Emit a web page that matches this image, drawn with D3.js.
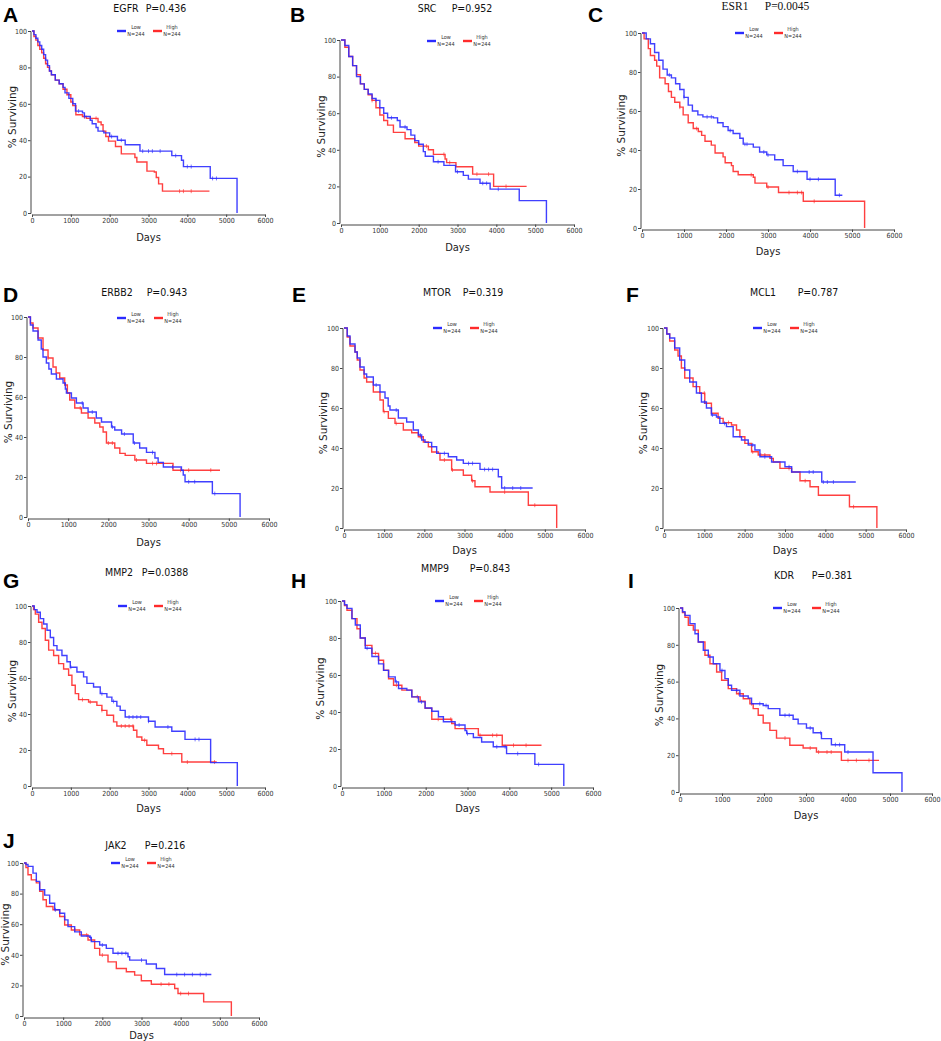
<!DOCTYPE html>
<html><head><meta charset="utf-8">
<script src="https://cdn.jsdelivr.net/npm/d3@7/dist/d3.min.js"></script>
<style>body{margin:0;background:#fff}svg{display:block}</style>
</head><body>
<svg id="c" width="941" height="1041"></svg>
<script>
// ---------- DATA ----------
const panelLetters = ["A","B","C","D","E","F","G","H","I","J"];
const genes = ["EGFR","SRC","ESR1","ERBB2","MTOR","MCL1","MMP2","MMP9","KDR","JAK2"];
const pValues = ["P=0.436","P=0.952","P=0.0045","P=0.943","P=0.319","P=0.787","P=0.0388","P=0.843","P=0.381","P=0.216"];
const groupLabels = ["Low","High"];
const groupN = ["N=244","N=244"];
const xTicks = [0,1000,2000,3000,4000,5000,6000];
const yTicks = [0,20,40,60,80,100];

// Kaplan-Meier steps [day, % surviving] for the Low expression group
const lowCurves = [
 [[0,100],[50,98],[100,96],[150,94],[200,92],[250,90],[300,87],[350,84],[400,81],[450,78],[500,76],[600,73],[700,71],[800,69],[850,66],[950,63],[1050,60],[1120,56],[1300,55],[1350,53],[1500,51],[1550,49],[1650,47],[1700,45],[1850,44],[2000,42],[2200,40],[2400,37.5],[2780,34],[3600,31.5],[3850,29],[3900,25.5],[4590,19],[5280,0]],
 [[0,100],[100,97],[200,91],[300,86],[400,80],[500,76],[600,73],[700,70.5],[800,68],[900,67],[1000,63],[1100,60],[1200,57.5],[1450,56],[1520,52.5],[1700,51],[1800,48],[1900,45],[2000,43],[2120,39],[2170,36.5],[2380,33.5],[2650,31.5],[2950,28],[3150,26],[3280,24],[3580,21.7],[3840,18.5],[4590,12.2],[5290,0]],
 [[0,100],[100,97],[200,94.5],[300,90],[400,86],[500,81.5],[600,78.5],[700,77],[800,74],[900,71],[1000,67],[1100,63],[1200,60],[1330,58],[1450,57],[1700,56.5],[1800,54],[1930,52],[2050,50],[2170,48.5],[2330,46],[2410,43],[2650,41.5],[2800,39],[2970,37.5],[3160,35],[3360,32],[3600,29],[3930,25],[4600,16.8],[4770,16.8]],
 [[0,100],[60,96],[125,93],[250,88.5],[330,84],[374,80],[457,77],[520,74],[582,71.5],[707,69],[873,67],[930,64],[956,62],[1081,59.5],[1205,57],[1372,54.5],[1496,52.5],[1700,49.5],[1830,47.5],[2080,45],[2160,43.5],[2330,41.5],[2620,37],[2780,34.5],[2950,32.3],[3160,29.5],[3240,27.3],[3370,25],[3820,23.4],[3865,21],[3910,17.6],[4590,11.7],[5280,0]],
 [[0,100],[80,96],[149,92],[274,88],[330,85],[398,80.5],[500,77],[564,75.5],[730,71.5],[896,68],[1021,65],[1100,61],[1145,59],[1353,55],[1560,53],[1726,49],[1851,46.5],[1934,44],[2017,42.8],[2183,40.6],[2307,37.3],[2598,35.6],[2805,34],[2971,32.3],[3386,29.3],[3842,25.6],[3925,20],[4697,20]],
 [[0,100],[70,97],[141,95],[265,90],[389,84],[514,79],[638,73],[804,67.5],[928,63],[1052,60],[1176,56.5],[1301,55.5],[1384,52.3],[1549,50.7],[1715,45.6],[1922,44],[2088,41.5],[2254,39],[2378,35.6],[2668,33],[2999,30.6],[3165,28],[3911,23],[4755,23]],
 [[0,100],[60,98],[129,96.5],[214,93],[300,90],[386,86.5],[471,82.5],[557,78],[643,75.5],[771,72.5],[900,69],[986,66],[1157,63.3],[1328,60.6],[1414,57],[1585,55],[1757,51.3],[1928,49.4],[2057,47],[2185,44.4],[2271,42],[2400,38.3],[3000,36],[3170,32.8],[3600,30.4],[3940,25.9],[4600,13],[5287,0]],
 [[0,100],[60,98],[119,96],[238,90.5],[318,87],[437,80],[556,74.5],[715,70],[874,66],[994,62.5],[1113,59],[1272,56.3],[1351,52.7],[1550,51.8],[1669,48.2],[1828,45.5],[1987,42.2],[2146,40.4],[2305,37.4],[2424,34.7],[2703,33],[2941,30],[2980,28.3],[3140,26.2],[3338,23.8],[3616,21.2],[3934,17.5],[4610,11.7],[5302,0]],
 [[0,100],[60,98],[119,96],[238,91.5],[357,86],[436,81.5],[555,77],[674,73.4],[792,69.7],[951,66],[1070,61.6],[1149,58],[1228,55.3],[1426,52.2],[1624,51],[1704,48],[1981,47],[2100,45.3],[2377,41.7],[2694,39.5],[2813,37],[3011,34.8],[3170,32.2],[3368,29],[3605,25.7],[3922,21.7],[4596,10.5],[5285,0]],
 [[0,100],[50,99],[102,97.8],[230,93.4],[315,88],[400,82.5],[528,79],[655,73.7],[783,69.4],[911,67.2],[1038,62.8],[1123,58.4],[1294,55],[1464,52.3],[1677,51.4],[1719,48.6],[1932,46.4],[2102,44.2],[2272,41],[2655,38.7],[2698,36.5],[3123,34],[3379,31],[3591,27.1],[4783,27.1]]
];
// Kaplan-Meier steps for the High expression group
const highCurves = [
 [[0,100],[50,97],[100,95],[150,92],[200,90],[250,88],[300,85],[350,82],[400,80],[450,78],[500,76],[600,73],[700,71],[800,68],[900,65],[1000,61],[1050,59],[1130,54],[1300,53],[1400,52],[1700,50],[1780,48.5],[1830,45],[1900,42],[1970,39.5],[2150,36.5],[2300,32.5],[2650,30.5],[2700,28],[2960,23],[3150,22.5],[3200,19.5],[3260,16],[3360,12],[4570,12]],
 [[0,100],[100,96],[200,91],[300,86],[400,81],[500,76],[600,73],[700,70],[800,67],[900,63],[1000,59],[1100,56],[1200,53.5],[1350,49.5],[1650,46],[1900,44],[2000,42],[2250,40],[2380,37.5],[2680,35],[2720,33],[2960,30.7],[3390,26.7],[3930,20],[4780,20]],
 [[0,100],[50,97],[150,92],[200,88.5],[300,86],[350,83],[420,77],[550,74],[630,70],[700,67],[780,64.5],[900,62],[980,58],[1100,54],[1220,51],[1340,49.5],[1420,47.5],[1500,44.5],[1650,42.5],[1740,38.5],[1930,36.5],[1980,33.5],[2130,32],[2170,29],[2290,27.3],[2650,26],[2690,23],[2970,21],[3250,18.2],[3840,13.7],[5300,0]],
 [[0,100],[60,97],[125,94.5],[250,89.5],[374,83.5],[499,79.5],[623,75],[700,72],[790,69.5],[914,66],[980,62],[1039,58.5],[1164,54.5],[1330,52],[1496,49.5],[1663,47],[1787,45],[1870,42.5],[1953,37],[2160,34.5],[2286,31.8],[2420,30.8],[2660,28.5],[2950,26.8],[3610,23.4],[4780,23.4]],
 [[0,100],[80,95.5],[149,91],[274,88],[330,84],[398,79],[500,75],[564,73],[730,68],[896,64],[979,58.2],[1104,54.8],[1270,52.3],[1477,49],[1685,47.6],[1851,45.6],[1975,43],[2100,40.6],[2183,38],[2349,37.3],[2390,34],[2680,29],[2971,26.4],[3178,23.6],[3261,20.6],[3635,18],[4589,11.4],[5295,0]],
 [[0,100],[70,97],[141,93.5],[265,89],[348,86],[431,80],[514,75],[721,70.7],[886,67.4],[1011,62.4],[1176,57.4],[1342,54.8],[1466,52.7],[1673,51.5],[1798,49],[1881,45.6],[2005,42.3],[2171,38.1],[2336,36.5],[2627,34.8],[2710,33],[2875,29.8],[3165,28],[3372,23.6],[3621,20.6],[3828,16.4],[4598,10.6],[5278,0]],
 [[0,100],[40,98],[86,95.5],[171,91],[257,87.5],[343,81],[429,75.5],[557,72.5],[686,68],[814,65],[943,61.5],[1028,56],[1114,51.3],[1200,48],[1457,46.7],[1671,44.8],[1800,42],[1928,39.3],[2100,35.6],[2185,33.3],[2614,31],[2700,27.2],[2828,25.4],[2957,22.6],[3257,20.7],[3385,18],[3857,13.3],[4757,13.3]],
 [[0,100],[60,97.5],[119,95],[238,90.5],[358,85],[437,80],[556,76],[715,71.7],[874,68],[994,62.6],[1113,58],[1232,54.5],[1431,51.8],[1669,48.2],[1868,45.8],[1987,42],[2146,36.1],[2623,33.8],[2703,31],[3259,27.4],[3831,22],[4769,22]],
 [[0,100],[60,97.5],[119,95],[198,90.6],[317,88],[436,81.5],[594,74.3],[713,69.7],[872,65.2],[991,60.7],[1149,56.2],[1347,53.4],[1506,50.7],[1664,48],[1743,45.3],[1862,41.7],[1981,37.5],[2140,33.5],[2298,29.3],[2615,25.4],[2932,23.9],[3249,21.7],[3843,17.2],[4739,17.2]],
 [[0,100],[50,97],[102,92.3],[187,89],[315,87],[400,81.5],[485,76],[570,71.6],[740,69.4],[911,65],[1038,59.5],[1209,56.2],[1421,53],[1634,49.7],[1804,44.2],[1932,39.8],[2145,35.4],[2357,31],[2613,28.9],[2825,26.7],[2996,23],[3251,20.8],[3847,18],[3932,14.7],[4587,9.2],[5294,0]]
];
// censored observation days (tick marks)
const lowCensor = [
 [1200,1350,2050,2300,2850,3000,3100,3300,3700,4000,4100,4650,4750],
 [900,1300,1650,2500,3000,3650,3750,4050],
 [650,1000,1550,1650,2100,2450,2500,2900,3000,3700,4000,4200,4700],
 [1350,1600,2100,2400,2650,3100,3600,4000,4150,4650],
 [800,1300,1900,2500,3100,3200,3500,3600,3700,4000,4200,4400],
 [1000,1200,1500,2200,2500,3100,3600,3700,3950,4050,4200],
 [1000,1800,2100,2500,2600,2700,2800,3000,3500,4200,4300],
 [600,1300,1900,2800,3000,3700,3900,4200,4700],
 [1000,1350,1900,2050,2500,2600,3100,3350,3700,3800,4000],
 [800,1700,2000,2400,2500,2600,3000,3900,4100,4300,4500,4650]
];
const highCensor = [
 [1350,1500,1650,3800,3900,4100],
 [800,2200,2650,2800,3500,3800,4250],
 [900,1300,2600,3000,3500,3700,3800,4100],
 [500,1300,2000,2100,2700,3100,3200,3800,4000,4550],
 [1000,1300,1900,2500,2700,3200,4000,4750],
 [800,1000,1600,2200,2400,2500,3100,3500,4700],
 [1300,1500,1800,2300,2400,2500,2600,2900,3600,4000,4700],
 [800,1300,1800,2300,2600,3300,3600,3700,4100,4400],
 [1400,1700,2500,3100,3300,3500,3600,4000,4200,4500],
 [1300,1600,2000,3500,3700,4000,4200]
];

// ---------- LAYOUT (pixel positions per panel) ----------
const layout = [
 {x0:32,x1:265,yT:31,yB:213,g:126,p:166,ty:8,lx:117,hx:153,ly:31,Lx:3,Ly:22,ylx:12,dy:237},
 {x0:341,x1:574,yT:40,yB:223,g:427,p:472,ty:8,lx:427,hx:463,ly:41,Lx:290,Ly:22,ylx:321,dy:247},
 {x0:642,x1:894,yT:33,yB:228,g:735,p:787,ty:6,lx:735,hx:774,ly:33,Lx:588,Ly:22,ylx:621,dy:251,serif:true},
 {x0:28,x1:269,yT:317,yB:517,g:117,p:167,ty:292,lx:117,hx:154,ly:318,Lx:3,Ly:302,ylx:8,dy:542},
 {x0:344,x1:585,yT:328,yB:528,g:437,p:483,ty:292,lx:433,hx:470,ly:328,Lx:292,Ly:302,ylx:323,dy:550},
 {x0:664,x1:906,yT:328,yB:528,g:763,p:818,ty:292,lx:753,hx:790,ly:328,Lx:626,Ly:302,ylx:643,dy:550},
 {x0:32,x1:265,yT:606,yB:786,g:119,p:165,ty:572,lx:118,hx:154,ly:606,Lx:3,Ly:588,ylx:12,dy:808},
 {x0:342,x1:593,yT:601,yB:786,g:435,p:490,ty:568,lx:435,hx:474,ly:601,Lx:291,Ly:588,ylx:320,dy:808},
 {x0:680,x1:932,yT:608,yB:792,g:784,p:832,ty:575,lx:773,hx:812,ly:608,Lx:628,Ly:588,ylx:659,dy:815},
 {x0:24,x1:259,yT:863,yB:1016,g:116,p:165,ty:845,lx:111,hx:147,ly:863,Lx:3,Ly:848,ylx:5,dy:1035}
];

const BLUE = "#2b2bff", RED = "#ff2b2b";
const COND = "'DejaVu Sans Condensed','DejaVu Sans',sans-serif";
const svg = d3.select("#c");

function survAt(curve, t){
  let s = curve[0][1];
  for (const d of curve){ if (d[0] <= t) s = d[1]; else break; }
  return s;
}

layout.forEach((L, i) => {
  const g = svg.append("g");
  const x = d3.scaleLinear().domain([0,6000]).range([L.x0, L.x1]);
  const y = d3.scaleLinear().domain([0,100]).range([L.yB, L.yT]);

  // axes
  const xa = g.append("g").attr("transform",`translate(0,${L.yB+1.5})`)
    .call(d3.axisBottom(x).tickValues(xTicks).tickFormat(d3.format("d")).tickSizeOuter(0).tickSize(2.5).tickPadding(1.5));
  const ya = g.append("g").attr("transform",`translate(${L.x0-1.5},0)`)
    .call(d3.axisLeft(y).tickValues(yTicks).tickFormat(d3.format("d")).tickSizeOuter(0).tickSize(2.5).tickPadding(1));
  [xa, ya].forEach(a => {
    a.selectAll("path,line").attr("stroke","#444").attr("stroke-width",1);
    a.selectAll("text").attr("font-family",COND).attr("font-size",7).attr("fill","#333");
  });

  // curves
  const line = d3.line().x(d => x(d[0])).y(d => y(d[1])).curve(d3.curveStepAfter);
  const groups = [[highCurves[i], highCensor[i], RED],[lowCurves[i], lowCensor[i], BLUE]];
  groups.forEach(([curve, cens, col]) => {
    g.append("path").datum(curve).attr("d", line).attr("fill","none")
      .attr("stroke", col).attr("stroke-width",1.4).attr("stroke-opacity",0.9);
    g.selectAll(null).data(cens.filter(t => t < curve[curve.length-1][0])).enter().append("line")
      .attr("x1", t => x(t)).attr("x2", t => x(t))
      .attr("y1", t => y(survAt(curve,t)) - 2).attr("y2", t => y(survAt(curve,t)) + 2)
      .attr("stroke", col).attr("stroke-width",0.8).attr("stroke-opacity",0.8);
  });

  // title
  const tf = L.serif ? "'Liberation Serif','DejaVu Serif',serif" : COND;
  const ts = L.serif ? 11.5 : 10.5;
  g.append("text").attr("x",L.g).attr("y",L.ty).attr("dy","0.35em").attr("text-anchor","middle")
    .attr("font-family",tf).attr("font-size",ts).attr("fill","#111").text(genes[i]);
  g.append("text").attr("x",L.p).attr("y",L.ty).attr("dy","0.35em").attr("text-anchor","middle")
    .attr("font-family",tf).attr("font-size",ts).attr("fill","#111").text(pValues[i]);

  // panel letter
  g.append("text").attr("x",L.Lx).attr("y",L.Ly).attr("font-family","'Liberation Sans',Arial,sans-serif")
    .attr("font-weight","bold").attr("font-size",21).attr("fill","#000").text(panelLetters[i]);

  // legend
  [[L.lx, BLUE, 0],[L.hx, RED, 1]].forEach(([lx, col, k]) => {
    g.append("line").attr("x1",lx).attr("x2",lx+9).attr("y1",L.ly).attr("y2",L.ly)
      .attr("stroke",col).attr("stroke-width",2.4);
    g.append("text").attr("x",lx+19).attr("y",L.ly-4).attr("dy","0.35em").attr("text-anchor","middle")
      .attr("font-family",COND).attr("font-size",5.5).attr("fill","#333").text(groupLabels[k]);
    g.append("text").attr("x",lx+19).attr("y",L.ly+3).attr("dy","0.35em").attr("text-anchor","middle")
      .attr("font-family",COND).attr("font-size",5.5).attr("fill","#333").text(groupN[k]);
  });

  // axis titles
  g.append("text").attr("x",(L.x0+L.x1)/2).attr("y",L.dy).attr("dy","0.35em").attr("text-anchor","middle")
    .attr("font-family",COND).attr("font-size",11).attr("fill","#222").text("Days");
  const cy = (L.yT+L.yB)/2 - 5;
  g.append("text").attr("transform",`translate(${L.ylx},${cy}) rotate(-90)`).attr("dy","0.35em")
    .attr("text-anchor","middle").attr("font-family","'DejaVu Sans',sans-serif").attr("font-size",10.5)
    .attr("fill","#222").text("% Surviving");
});
</script>
</body></html>
